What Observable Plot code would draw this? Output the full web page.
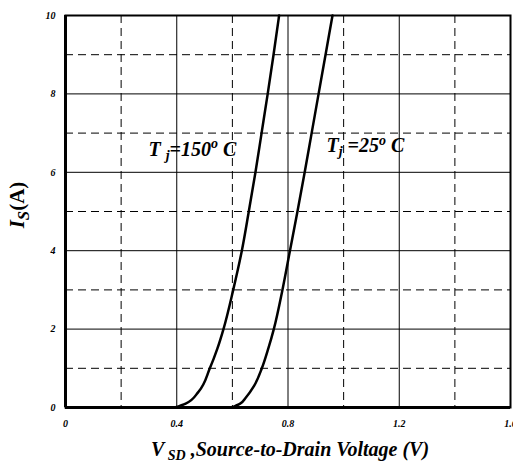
<!DOCTYPE html>
<html><head><meta charset="utf-8">
<script src="https://cdn.jsdelivr.net/npm/d3@7"></script>
<script src="https://cdn.jsdelivr.net/npm/@observablehq/plot@0.6"></script>
<style>body{margin:0;background:#fff}</style>
</head><body><div id="chart"></div>
<script>
// ---- data ----
const xMajor = [0, 0.4, 0.8, 1.2, 1.6];
const xTickLabels = ["0", "0.4", "0.8", "1.2", "1.6"];
const xMinor = [0.2, 0.6, 1.0, 1.4];
const yMajor = [0, 2, 4, 6, 8, 10];
const yTickLabels = ["0", "2", "4", "6", "8", "10"];
const yMinor = [1, 3, 5, 7, 9];

// Tj = 150 °C
const v150 = [0.393, 0.432, 0.478, 0.519, 0.546, 0.568, 0.603, 0.634, 0.659, 0.683, 0.705, 0.727, 0.748, 0.768];
const i150 = [0, 0.1, 0.4, 1, 1.5, 2, 3, 4, 5, 6, 7, 8, 9, 10];
// Tj = 25 °C
const v25 = [0.597, 0.628, 0.648, 0.678, 0.706, 0.729, 0.749, 0.780, 0.807, 0.834, 0.860, 0.885, 0.910, 0.935, 0.960];
const i25 = [0, 0.1, 0.25, 0.55, 1, 1.5, 2, 3, 4, 5, 6, 7, 8, 9, 10];
const seriesNames = ["150", "25"];

const rows = [
  ...v150.map((v, k) => ({v, i: i150[k], s: seriesNames[0]})),
  ...v25.map((v, k) => ({v, i: i25[k], s: seriesNames[1]}))
];

const FONT = "'Liberation Serif','Times New Roman',serif";

const plot = Plot.plot({
  width: 513,
  height: 462,
  marginLeft: 65,
  marginRight: 3,
  marginTop: 15,
  marginBottom: 55,
  style: {fontFamily: FONT, background: "white", overflow: "visible"},
  x: {domain: [0, 1.6]},
  y: {domain: [0, 10]},
  marks: [
    Plot.ruleX(xMinor, {stroke: "black", strokeWidth: 1, strokeDasharray: "8,5"}),
    Plot.ruleY(yMinor, {stroke: "black", strokeWidth: 1, strokeDasharray: "8,5"}),
    Plot.ruleX(xMajor, {stroke: "black", strokeWidth: 1}),
    Plot.ruleY(yMajor, {stroke: "black", strokeWidth: 1}),
    Plot.frame({stroke: "black", strokeWidth: 2}),
    Plot.ruleX([0], {stroke: "black", strokeWidth: 3}),
    Plot.ruleY([0], {stroke: "black", strokeWidth: 3}),
    Plot.line(rows, {x: "v", y: "i", z: "s", stroke: "black", strokeWidth: 2.5, curve: "monotone-y"}),
    Plot.axisX(xMajor, {tickSize: 0, tickPadding: 12, label: null,
      tickFormat: d => xTickLabels[xMajor.indexOf(d)],
      fontSize: 10, fontWeight: "bold", fontStyle: "italic", fontFamily: FONT}),
    Plot.axisY(yMajor, {tickSize: 0, tickPadding: 10, label: null,
      tickFormat: d => yTickLabels[yMajor.indexOf(d)],
      fontSize: 10, fontWeight: "bold", fontStyle: "italic", fontFamily: FONT})
  ]
});
document.getElementById("chart").appendChild(plot);

const sx = plot.scale("x"), sy = plot.scale("y");
const svg = d3.select(plot);

function rich(x, y, parts, opts = {}) {
  const t = svg.append("text")
    .attr("x", x).attr("y", y)
    .attr("font-family", FONT)
    .attr("font-size", opts.size || 20)
    .attr("font-weight", "bold")
    .attr("fill", "black")
    .attr("text-anchor", opts.anchor || "start");
  if (opts.rotate) t.attr("transform", `rotate(${opts.rotate},${x},${y})`);
  for (const p of parts) {
    const ts = t.append("tspan").text(p.t)
      .attr("font-style", p.upright ? "normal" : "italic");
    if (p.sub) ts.attr("font-size", p.subSize || "0.7em").attr("dy", "0.3em");
    if (p.sup) ts.attr("font-size", "0.7em").attr("dy", "-0.55em");
    if (p.reset) ts.attr("dy", p.reset);
  }
  return t;
}

// curve annotations
rich(sx.apply(0.3), sy.apply(6.4), [
  {t: "T "}, {t: "j", sub: true}, {t: "=150", reset: "-0.21em"}, {t: "o", sup: true}, {t: " C", reset: "0.385em"}
]);
rich(sx.apply(0.94), sy.apply(6.5), [
  {t: "T"}, {t: "j", sub: true}, {t: " =25", reset: "-0.21em"}, {t: "o", sup: true}, {t: " C", reset: "0.385em"}
]);

// axis titles
rich(290, 456, [
  {t: "V"}, {t: " SD", sub: true}, {t: " ,Source-to-Drain Voltage (V)", reset: "-0.21em"}
], {anchor: "middle", size: 20});
rich(24, 205, [
  {t: "I"}, {t: "S", sub: true, subSize: "0.8em"}, {t: "(A)", upright: true, reset: "-0.24em"}
], {anchor: "middle", size: 21, rotate: -90});
</script>
</body></html>
